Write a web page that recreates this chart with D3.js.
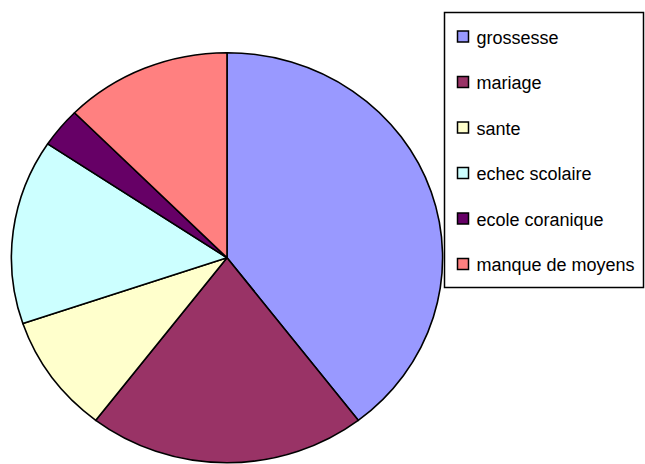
<!DOCTYPE html>
<html>
<head>
<meta charset="utf-8">
<script src="https://cdn.jsdelivr.net/npm/d3@7"></script>
<style>
  html, body { margin: 0; padding: 0; background: #fff; }
  svg { display: block; }
</style>
</head>
<body>
<svg id="chart" width="645" height="464"></svg>
<script>
const categories = ["grossesse", "mariage", "sante", "echec scolaire", "ecole coranique", "manque de moyens"];
const values = [38, 20, 9, 14, 3, 12];
const colors = ["#9999FF", "#993366", "#FFFFCC", "#CCFFFF", "#660066", "#FF8080"];

const svg = d3.select("#chart");
const rx = 215.6, ry = 205;
const cx = 227, cy = 257.7;

const pie = d3.pie().sort(null).value(d => d)(values);
const arc = d3.arc().innerRadius(0).outerRadius(rx);

const g = svg.append("g")
  .attr("transform", `translate(${cx},${cy}) scale(1,${ry / rx})`);

g.selectAll("path")
  .data(pie)
  .join("path")
  .attr("d", arc)
  .attr("fill", (d, i) => colors[i])
  .attr("stroke", "#000")
  .attr("stroke-width", 1.6)
  .attr("stroke-linejoin", "round")
  .attr("vector-effect", "non-scaling-stroke");

// Legend
const lg = svg.append("g");
lg.append("rect")
  .attr("x", 444.5).attr("y", 12.5)
  .attr("width", 199).attr("height", 275)
  .attr("fill", "#fff")
  .attr("stroke", "#000")
  .attr("stroke-width", 1.5);

const items = lg.selectAll("g.item")
  .data(categories)
  .join("g")
  .attr("class", "item")
  .attr("transform", (d, i) => `translate(0, ${i * 45.5})`);

items.append("rect")
  .attr("x", 457.5).attr("y", 31)
  .attr("width", 11).attr("height", 11)
  .attr("fill", (d, i) => colors[i])
  .attr("stroke", "#000")
  .attr("stroke-width", 1.5);

items.append("text")
  .attr("x", 476.5).attr("y", 43.5)
  .attr("font-family", "'Liberation Sans', Arial, sans-serif")
  .attr("font-size", 18)
  .attr("fill", "#000")
  .text(d => d);
</script>
</body>
</html>
